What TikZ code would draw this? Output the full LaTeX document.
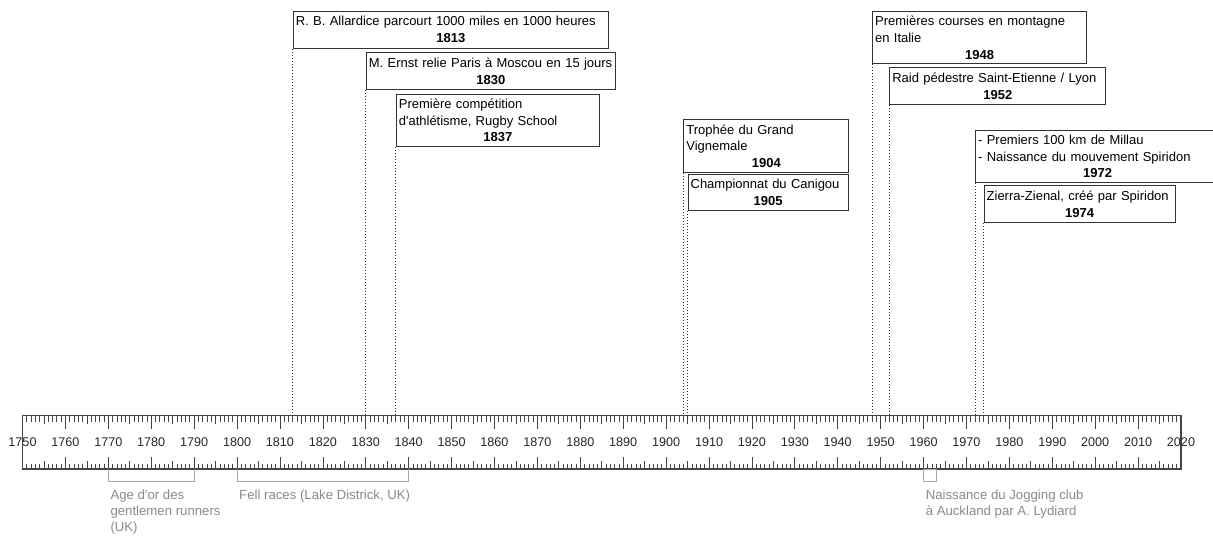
\documentclass[tikz,border=0pt]{standalone}
\usepackage{fontspec}
\setmainfont{Liberation Sans}
\usetikzlibrary{calc}

\definecolor{boxline}{HTML}{333333}
\definecolor{tickgray}{HTML}{444444}
\definecolor{notegray}{HTML}{8A8A8A}
\definecolor{spangray}{HTML}{A8A8A8}

% year -> horizontal position on the ruler
\newcommand{\yx}[1]{22.5+(#1-1750)*4.2907}
% centred year under the event text
\newcommand{\yrline}[1]{\par\hbox to\hsize{\hfil\textbf{#1}\hfil}}

\tikzset{
  evt/.style={draw=boxline, line width=1.1pt, inner xsep=2.5pt, inner ysep=0pt,
    anchor=north west, align=left, font=\fontsize{13}{16.8}\selectfont},
  leader/.style={boxline, dotted, line width=1pt},
  ticks/.style={tickgray, line width=0.7pt},
  yearlbl/.style={inner sep=0pt, text=black!85, font=\fontsize{12.6}{14}\selectfont},
  note/.style={anchor=north west, align=left, inner sep=0pt, text=notegray,
    font=\fontsize{13.2}{16}\selectfont},
  span/.style={spangray, line width=1pt},
}

\begin{document}
\begin{tikzpicture}[x=1pt,y=-1pt]
        \useasboundingbox (0,0) rectangle (1213,536);
        \clip (0,0) rectangle (1213,536);

        % ruler
        \coordinate (axisnw) at ({\yx{1750}},415.7);
        \coordinate (axisse) at ({\yx{2020}},469);
        \foreach \y in {1750,...,2020}
            \draw[ticks] ({\yx{\y}},415.7) -- ++(0,6) ({\yx{\y}},469) -- ++(0,-5);
        \foreach \y in {1755,1765,...,2015}
            \draw[ticks] ({\yx{\y}},415.7) -- ++(0,8) ({\yx{\y}},469) -- ++(0,-8);
        \foreach \y in {1750,1760,...,2020}
            \draw[ticks] ({\yx{\y}},415.7) -- ++(0,13) ({\yx{\y}},469) -- ++(0,-12);
        \draw[tickgray, line width=1.2pt] (axisnw) rectangle (axisse);
        \foreach \y in {1750,1760,...,2020}
            \node[yearlbl] (y\y) at ({\yx{\y}},442.5) {\y};

        % events
        \node[evt, text width=310pt, minimum height=37pt] (e1813) at ({\yx{1813}},10.7)
            {\mbox{R. B. Allardice parcourt 1000 miles en 1000 heures}\yrline{1813}};
        \node[evt, text width=244pt, minimum height=37pt] (e1830) at ({\yx{1830}},52)
            {\mbox{M. Ernst relie Paris à Moscou en 15 jours}\yrline{1830}};
        \node[evt, text width=198pt, minimum height=52.3pt] (e1837) at ({\yx{1837}},93.7)
            {Première compétition\\\mbox{d\textquotesingle athlétisme, Rugby School}\yrline{1837}};
        \node[evt, text width=160pt, minimum height=53.3pt] (e1904) at ({\yx{1904}},119)
            {Trophée du Grand\\Vignemale\yrline{1904}};
        \node[evt, text width=155pt, minimum height=36pt] (e1905) at ({\yx{1905}},174)
            {\mbox{Championnat du Canigou}\yrline{1905}};
        \node[evt, text width=209pt, minimum height=52.5pt] (e1948) at ({\yx{1948}},10.7)
            {\mbox{Premières courses en montagne}\\en Italie\yrline{1948}};
        \node[evt, text width=211pt, minimum height=37pt] (e1952) at ({\yx{1952}},67)
            {\mbox{Raid pédestre Saint-Etienne / Lyon}\yrline{1952}};
        \node[evt, text width=239pt, minimum height=52pt] (e1972) at ({\yx{1972}},130)
            {- Premiers 100 km de Millau\\\mbox{- Naissance du mouvement Spiridon}\yrline{1972}};
        \node[evt, text width=186pt, minimum height=37pt] (e1974) at ({\yx{1974}},185)
            {\mbox{Zierra-Zienal, créé par Spiridon}\yrline{1974}};

        \foreach \e in {e1813,e1830,e1837,e1904,e1905,e1948,e1952,e1972,e1974}
            \draw[leader] (\e.south west) -- (\e.south west |- axisnw);

        % periods below the ruler
        \coordinate (age0) at ({\yx{1770}},469);
        \coordinate (age1) at ({\yx{1790}},469);
        \coordinate (fell0) at ({\yx{1800}},469);
        \coordinate (fell1) at ({\yx{1840}},469);
        \coordinate (jog0) at ({\yx{1960}},469);
        \coordinate (jog1) at ({\yx{1963}},481);
        \draw[span] (age0) -- ++(0,12) -| (age1);
        \draw[span] (fell0) -- ++(0,12) -| (fell1);
        \draw[span] (jog0) rectangle (jog1);

        \node[note] (age) at ($(age0)+(2,21)$) {Age d\textquotesingle or des\\gentlemen runners\\(UK)};
        \node[note] (fell) at ($(fell0)+(2,21)$) {Fell races (Lake Districk, UK)};
        \node[note] (jog) at ($(jog0)+(2,21)$) {Naissance du Jogging club\\à Auckland par A. Lydiard};
\end{tikzpicture}
\end{document}
